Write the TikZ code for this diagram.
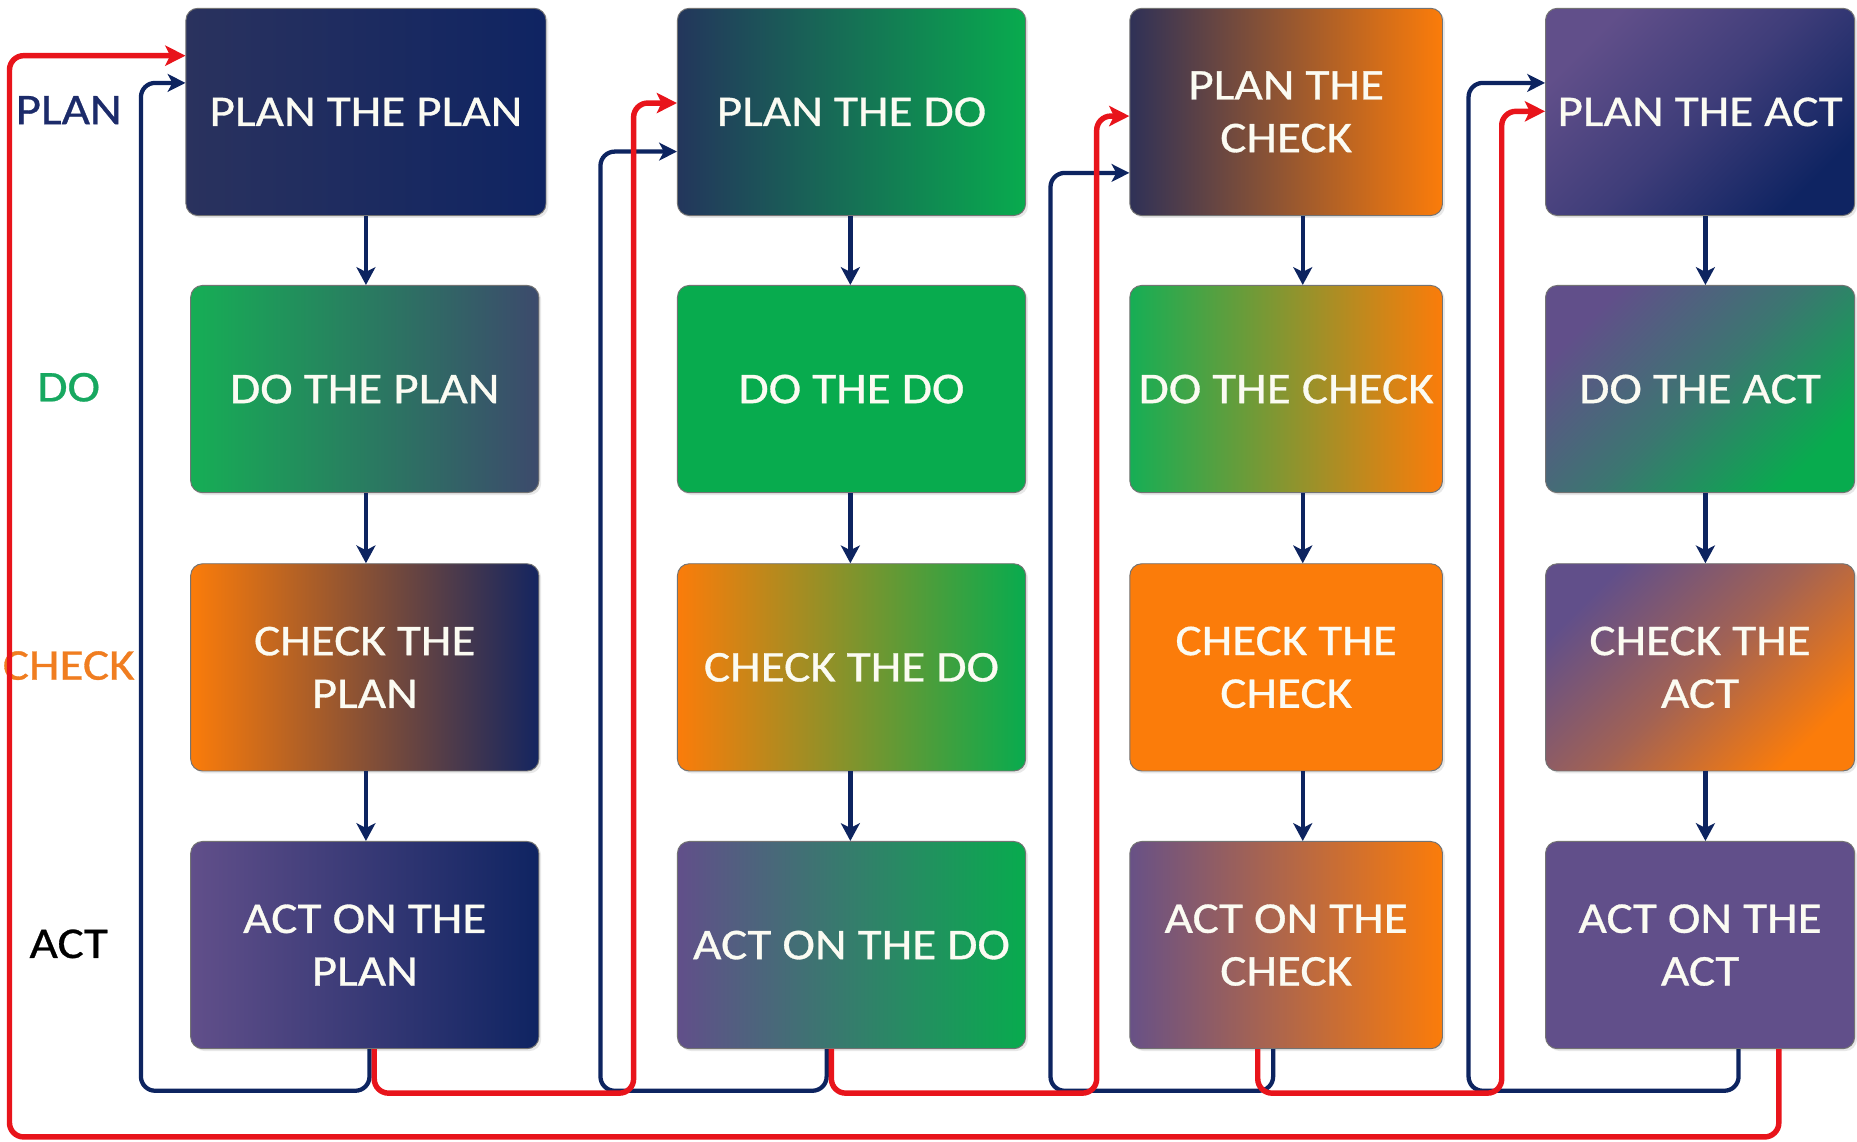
\documentclass[tikz,border=0pt]{standalone}
\usepackage{fontspec}
\setmainfont{Carlito}[FakeStretch=1.12,FakeBold=0.7]
\usetikzlibrary{arrows.meta,shadows}
\definecolor{navy}{HTML}{0F2462}
\definecolor{arrnavy}{HTML}{0D2460}
\definecolor{lred}{HTML}{E8141B}
\definecolor{green}{HTML}{08AB4E}
\definecolor{orange}{HTML}{FB7C0A}
\definecolor{purple}{HTML}{614F8A}
\definecolor{boxtxt}{HTML}{FBFBF2}
\definecolor{labplan}{HTML}{1C2B6A}
\definecolor{labdo}{HTML}{17A860}
\definecolor{labcheck}{HTML}{F07D20}
\definecolor{ppnavy}{HTML}{2A325E}
\definecolor{slate}{HTML}{3C4A6C}
\definecolor{greenl}{HTML}{16AE55}
\definecolor{navyb}{HTML}{142560}
\definecolor{pdnavy}{HTML}{23365C}
\definecolor{pcnavy}{HTML}{2F3157}
\definecolor{purpleb}{HTML}{685186}
\begin{document}
\begin{tikzpicture}[x=1pt,y=-1pt,
  box/.style={rounded corners=10pt, draw=black!55, line width=0.8pt,
    minimum height=175pt, text=boxtxt, align=center, inner sep=0pt,
    font=\fontsize{37}{44.5}\selectfont,
    drop shadow={opacity=0.18, shadow xshift=2pt, shadow yshift=-2pt}},
  lab/.style={font=\fontsize{37}{44.5}\selectfont, inner sep=0pt},
  flow/.style={draw=arrnavy, line width=3.8pt, -{Stealth[length=15pt,width=16pt,inset=4pt]}},
  navyloop/.style={draw=arrnavy, line width=3.6pt, rounded corners=12pt, -{Stealth[length=15pt,width=15pt,inset=4pt]}},
  redloop/.style={draw=lred, line width=4.6pt, rounded corners=12pt, -{Stealth[length=17pt,width=17pt,inset=4pt]}},
  w1/.style={minimum width=294pt}, w2/.style={minimum width=294pt},
  w3/.style={minimum width=264pt}, w4/.style={minimum width=261pt},
  diag/.style 2 args={top color=#1, bottom color=#2, shading angle=45, middle color=#1!58!#2}]
\useasboundingbox (0,0) rectangle (1568,964);
\fill[white] (0,0) rectangle (1568,964);

% row labels
\node[lab, text=labplan] (lplan) at (58,93) {PLAN};
\node[lab, text=labdo] (ldo) at (58,327) {DO};
\node[lab, text=labcheck] (lcheck) at (58,562) {CHECK};
\node[lab, text=black] (lact) at (58,797) {ACT};

% column 1
\node[box, minimum width=304pt, left color=ppnavy, right color=navy] (p1) at (309,94.5) {PLAN THE PLAN};
\node[box, w1, left color=greenl, right color=slate] (d1) at (308,328.5) {DO THE PLAN};
\node[box, w1, left color=orange, right color=navyb] (c1) at (308,563.5) {CHECK THE\\PLAN};
\node[box, w1, left color=purple, right color=navy] (a1) at (308,798) {ACT ON THE\\PLAN};
% column 2
\node[box, w2, left color=pdnavy, right color=green] (p2) at (719,94.5) {PLAN THE DO};
\node[box, w2, fill=green] (d2) at (719,328.5) {DO THE DO};
\node[box, w2, left color=orange, right color=green] (c2) at (719,563.5) {CHECK THE DO};
\node[box, w2, left color=purple, right color=green] (a2) at (719,798) {ACT ON THE DO};
% column 3
\node[box, w3, left color=pcnavy, right color=orange] (p3) at (1086,94.5) {PLAN THE\\CHECK};
\node[box, w3, left color=greenl, right color=orange] (d3) at (1086,328.5) {DO THE CHECK};
\node[box, w3, fill=orange] (c3) at (1086,563.5) {CHECK THE\\CHECK};
\node[box, w3, left color=purpleb, right color=orange] (a3) at (1086,798) {ACT ON THE\\CHECK};
% column 4
\node[box, w4, diag={purple}{navy}] (p4) at (1435.5,94.5) {PLAN THE ACT};
\node[box, w4, diag={purple}{green}] (d4) at (1435.5,328.5) {DO THE ACT};
\node[box, w4, diag={purple}{orange}] (c4) at (1435.5,563.5) {CHECK THE\\ACT};
\node[box, w4, fill=purple] (a4) at (1435.5,798) {ACT ON THE\\ACT};

% downward arrows
\coordinate (ax1) at (309,0);
\coordinate (ax2) at (718,0);
\coordinate (ax3) at (1100,0);
\coordinate (ax4) at (1440,0);
\foreach \c in {1,2,3,4}{
  \draw[flow] (p\c.south -| ax\c) -- (d\c.north -| ax\c);
  \draw[flow] (d\c.south -| ax\c) -- (c\c.north -| ax\c);
  \draw[flow] (c\c.south -| ax\c) -- (a\c.north -| ax\c);
}

% outer red loop
\draw[redloop] (a4.south -| 1502,0) -- (1502,960) -- (8,960) -- (8,47) -- (p1.west |- 0,47);
% navy loops (back to own column)
\draw[navyloop] (a1.south -| 312,0) -- (312,921) -- (119,921) -- (119,70) -- (p1.west |- 0,70);
\draw[navyloop] (a2.south -| 698,0) -- (698,921) -- (507,921) -- (507,128) -- (p2.west |- 0,128);
\draw[navyloop] (a3.south -| 1075,0) -- (1075,921) -- (887,921) -- (887,146) -- (p3.west |- 0,146);
\draw[navyloop] (a4.south -| 1468,0) -- (1468,921) -- (1240,921) -- (1240,70) -- (p4.west |- 0,70);
% red loops (to next column)
\draw[redloop] (a1.south -| 316,0) -- (316,923) -- (535,923) -- (535,87) -- (p2.west |- 0,87);
\draw[redloop] (a2.south -| 702,0) -- (702,923) -- (926,923) -- (926,98) -- (p3.west |- 0,98);
\draw[redloop] (a3.south -| 1062,0) -- (1062,923) -- (1268,923) -- (1268,94) -- (p4.west |- 0,94);
\end{tikzpicture}
\end{document}
